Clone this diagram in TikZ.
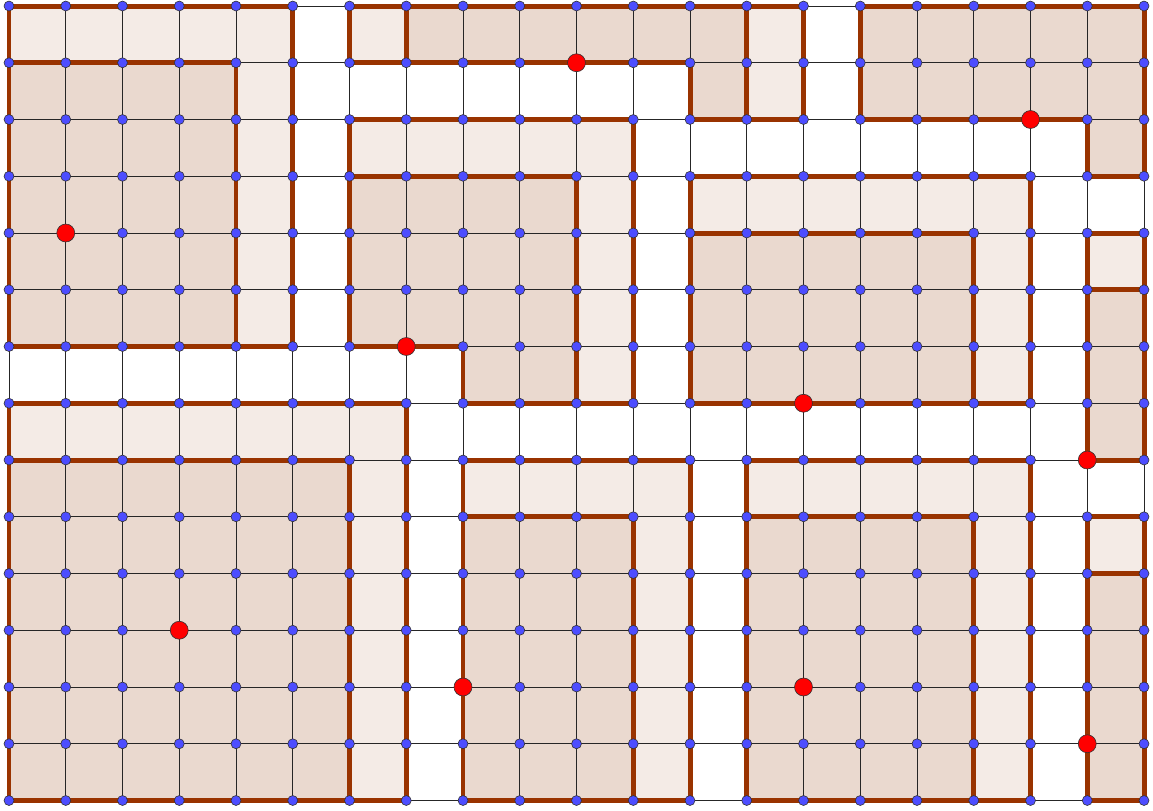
\documentclass[tikz,border=0pt]{standalone}
\definecolor{lightf}{RGB}{244,235,230}
\definecolor{darkf}{RGB}{234,217,207}
\definecolor{thickc}{RGB}{153,51,0}
\definecolor{bluep}{RGB}{77,77,255}
\definecolor{redp}{RGB}{255,0,0}
\begin{document}
\begin{tikzpicture}[x=1cm,y=-1cm,
  gridline/.style={draw=black!85,line width=0.5pt},
  thk/.style={draw=thickc,line width=2.5pt,line cap=round},
  bdot/.style={circle,draw=black!80,line width=0.3pt,fill=bluep,minimum size=5pt,inner sep=0pt},
  rdot/.style={circle,draw=black!80,line width=0.3pt,fill=redp,minimum size=9pt,inner sep=0pt}]
\useasboundingbox (-0.1586,-0.1057) rectangle (20.1586,14.176);
% light fills
\foreach \a/\b/\c/\d in {0/0/5/1, 6/0/7/1, 13/0/14/2, 4/1/5/6, 6/2/11/3, 10/3/11/7,
  12/3/18/4, 17/4/18/7, 19/4/20/5, 0/7/7/8, 6/8/7/14, 8/8/12/9, 11/9/12/14,
  13/8/18/9, 17/9/18/14, 19/9/20/10}
  \fill[lightf] (\a,\b) rectangle (\c,\d);
% dark fills
\foreach \a/\b/\c/\d in {7/0/13/1, 12/1/13/2, 15/0/20/2, 19/2/20/3, 0/1/4/6,
  6/3/10/6, 8/6/10/7, 12/4/17/7, 19/5/20/8, 0/8/6/14, 8/9/11/14, 13/9/17/14, 19/10/20/14}
  \fill[darkf] (\a,\b) rectangle (\c,\d);
% thin grid
\foreach \i in {0,...,20} \draw[gridline] (\i,0) -- (\i,14);
\foreach \j in {0,...,14} \draw[gridline] (0,\j) -- (20,\j);
% thick horizontal segments: row/from/to
\foreach \r/\p/\q in {0/0/5, 0/6/14, 0/15/20, 1/0/4, 1/6/12, 2/6/11, 2/12/14, 2/15/19,
  3/6/10, 3/12/18, 3/19/20, 4/12/17, 4/19/20, 5/19/20, 6/0/5, 6/6/8,
  7/0/7, 7/8/11, 7/12/18, 8/0/6, 8/8/12, 8/13/18, 8/19/20,
  9/8/11, 9/13/17, 9/19/20, 10/19/20, 14/0/7, 14/8/12, 14/13/18, 14/19/20}
  \draw[thk] (\p,\r) -- (\q,\r);
% thick vertical segments: column/from/to
\foreach \c/\p/\q in {0/0/6, 0/7/14, 4/1/6, 5/0/6, 6/0/1, 6/2/6, 6/8/14, 7/0/1, 7/7/14,
  8/6/7, 8/8/14, 10/3/7, 11/2/7, 11/9/14, 12/1/2, 12/3/7, 12/8/14, 13/0/2, 13/8/14,
  14/0/2, 15/0/2, 17/4/7, 17/9/14, 18/3/7, 18/8/14, 19/2/3, 19/4/8, 19/9/14,
  20/0/3, 20/4/8, 20/9/14}
  \draw[thk] (\c,\p) -- (\c,\q);
% grid points
\foreach \i in {0,...,20}
  \foreach \j in {0,...,14}
    \node[bdot] (p-\i-\j) at (\i,\j) {};
% red points
\foreach \i/\j [count=\k] in {10/1, 18/2, 1/4, 7/6, 14/7, 19/8, 3/11, 8/12, 14/12, 19/13}
  \node[rdot] (r\k) at (\i,\j) {};
\end{tikzpicture}
\end{document}
